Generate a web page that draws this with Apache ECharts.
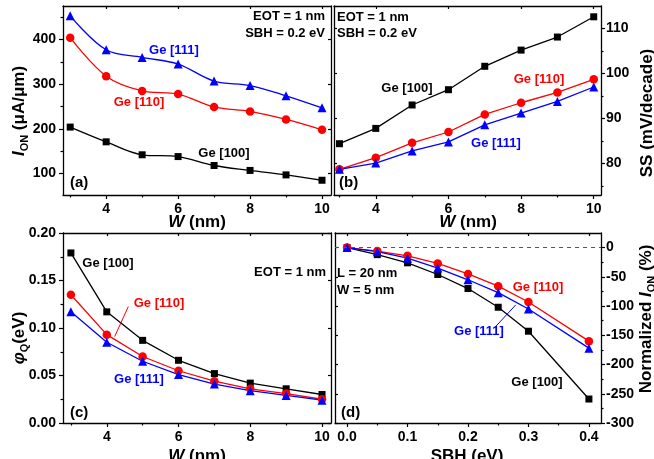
<!DOCTYPE html>
<html>
<head>
<meta charset="utf-8">
<script src="https://cdn.jsdelivr.net/npm/echarts@6/dist/echarts.min.js"></script>
<style>
  html, body { margin: 0; padding: 0; background: #fff; }
  #chart { width: 654px; height: 459px; }
</style>
</head>
<body>
<div id="chart"></div>
<script>
// data

const W_NM = [3, 4, 5, 6, 7, 8, 9, 10];
const SBH_EV = [0, 0.05, 0.1, 0.15, 0.2, 0.25, 0.3, 0.4];

// (a) I_ON (uA/um)
const ion100 = [204, 171, 142, 138, 118, 107, 97, 85];
const ion110 = [404, 318, 285, 278, 249, 239, 221, 198];
const ion111 = [453, 377, 360, 345, 307, 297, 274, 247];

// (b) SS (mV/decade)
const ss100 = [84.4, 87.8, 93.0, 96.4, 101.6, 105.2, 108.1, 112.6];
const ss110 = [78.7, 81.3, 84.6, 87.0, 90.9, 93.5, 95.8, 98.7];
const ss111 = [78.7, 80.1, 82.8, 84.8, 88.6, 91.2, 93.8, 97.0];

// (c) phi_Q (eV)
const phi100 = [0.179, 0.117, 0.087, 0.066, 0.052, 0.042, 0.036, 0.030];
const phi110 = [0.135, 0.093, 0.070, 0.055, 0.044, 0.036, 0.031, 0.025];
const phi111 = [0.117, 0.085, 0.065, 0.051, 0.041, 0.034, 0.029, 0.024];

// (d) normalized I_ON (%)
const norm100 = [0, -12, -26, -46, -70, -102, -143, -259];
const norm110 = [0, -6, -14, -27, -45, -66, -93, -160];
const norm111 = [0, -7, -18, -35, -55, -77, -105, -172];

// tick values
const wMajor = [4, 6, 8, 10];
const wMinor = [3, 5, 7, 9];
const ionMajor = [100, 200, 300, 400];
const ionMinor = [150, 250, 350, 450];
const ssMajor = [80, 90, 100, 110];
const ssMinor = [75, 85, 95, 105];
const phiMajor = [0, 0.05, 0.1, 0.15, 0.2];
const phiMinor = [0.025, 0.075, 0.125, 0.175];
const sbhMajor = [0, 0.1, 0.2, 0.3, 0.4];
const sbhMinor = [0.05, 0.15, 0.25, 0.35];
const normMajor = [0, -50, -100, -150, -200, -250, -300];
const normMinor = [-25, -75, -125, -175, -225, -275];

const FONT = 'Liberation Sans';
const BLACK = '#000000', RED = '#ff0000', BLUE = '#0000ff';

const chart = echarts.init(document.getElementById('chart'));

const grids = [
  { left: 63, top: 6, width: 268, height: 189 },
  { left: 334, top: 6, width: 267, height: 189 },
  { left: 63, top: 233, width: 268, height: 190 },
  { left: 335, top: 233, width: 266, height: 190 }
];

const lineStyle = { color: '#000', width: 1.3 };
const tickStyle = { color: '#000', width: 1.2 };
const labelStyle = { color: '#000', fontSize: 14, fontWeight: 'bold', fontFamily: FONT };

// main axis + minor tick axis + mirrored axis on the opposite side
function axes(gi, side, other, min, max, major, minor, fmt) {
  return [
    {
      type: 'value', gridIndex: gi, min, max, position: side,
      axisLine: { show: true, onZero: false, lineStyle },
      axisTick: { show: true, customValues: major, length: 4, lineStyle: tickStyle },
      axisLabel: Object.assign({ customValues: major, formatter: fmt, margin: side === 'right' ? 5 : 7 }, labelStyle),
      splitLine: { show: false }
    },
    {
      type: 'value', gridIndex: gi, min, max, position: side,
      axisLine: { show: false, onZero: false },
      axisTick: { show: true, customValues: minor, length: 2.5, lineStyle: tickStyle },
      axisLabel: { show: false },
      splitLine: { show: false }
    },
    {
      type: 'value', gridIndex: gi, min, max, position: other,
      axisLine: { show: true, onZero: false, lineStyle },
      axisTick: { show: true, inside: true, customValues: major, length: 3, lineStyle: tickStyle },
      axisLabel: { show: false },
      splitLine: { show: false }
    }
  ];
}

const intFmt = v => String(Math.round(v));

const xAxis = [].concat(
  axes(0, 'bottom', 'top', 2.8, 10.25, wMajor, wMinor, intFmt),
  axes(1, 'bottom', 'top', 2.85, 10.2, wMajor, wMinor, intFmt),
  axes(2, 'bottom', 'top', 2.78, 10.25, wMajor, wMinor, intFmt),
  axes(3, 'bottom', 'top', -0.02, 0.42, sbhMajor, sbhMinor, v => v.toFixed(1))
);
const yAxis = [].concat(
  axes(0, 'left', 'right', 52, 475, ionMajor, ionMinor, intFmt),
  axes(1, 'right', 'left', 73, 115, ssMajor, ssMinor, intFmt),
  axes(2, 'left', 'right', 0, 0.2, phiMajor, phiMinor, v => v.toFixed(2)),
  axes(3, 'right', 'left', -300, 25, normMajor, normMinor, intFmt)
);

function line(gi, xs, ys, color, symbol, size, smooth, extra) {
  return Object.assign({
    type: 'line',
    xAxisIndex: gi * 3,
    yAxisIndex: gi * 3,
    data: xs.map((x, i) => [x, ys[i]]),
    symbol,
    symbolSize: size,
    smooth: smooth || false,
    itemStyle: { color },
    lineStyle: { color, width: 1.3 },
    emphasis: { disabled: true }
  }, extra || {});
}

const SQ = ['rect', 7], CI = ['circle', 8.5], TR = ['triangle', 9];

const series = [
  line(0, W_NM, ion100, BLACK, SQ[0], SQ[1], 0.35),
  line(0, W_NM, ion110, RED, CI[0], CI[1], 0.35),
  line(0, W_NM, ion111, BLUE, TR[0], TR[1], 0.35),

  line(1, W_NM, ss100, BLACK, SQ[0], SQ[1]),
  line(1, W_NM, ss110, RED, CI[0], CI[1]),
  line(1, W_NM, ss111, BLUE, TR[0], TR[1]),

  line(2, W_NM, phi100, BLACK, SQ[0], SQ[1]),
  line(2, W_NM, phi110, RED, CI[0], CI[1], false, {
    markLine: {
      silent: true, symbol: 'none', label: { show: false },
      lineStyle: { color: RED, width: 1, type: 'solid' },
      data: [[{ coord: [4.6, 0.1225] }, { coord: [4.22, 0.091] }]]
    }
  }),
  line(2, W_NM, phi111, BLUE, TR[0], TR[1]),

  line(3, SBH_EV, norm100, BLACK, SQ[0], SQ[1]),
  line(3, SBH_EV, norm110, RED, CI[0], CI[1], false, {
    markLine: {
      silent: true, symbol: 'none', label: { show: false },
      lineStyle: { color: '#555', width: 1, type: [4, 4] },
      data: [{ yAxis: 0 }]
    }
  }),
  line(3, SBH_EV, norm111, BLUE, TR[0], TR[1], false, {
    markLine: {
      silent: true, symbol: 'none', label: { show: false },
      lineStyle: { color: BLUE, width: 1, type: 'solid' },
      data: [[{ coord: [0.243, -138] }, { coord: [0.279, -98] }]]
    }
  })
];

// annotations: [text, x, y, align, color, size]
const notes = [
  ['EOT = 1 nm', 325, 16, 'right', BLACK, 13],
  ['SBH = 0.2 eV', 325, 33, 'right', BLACK, 13],
  ['Ge [111]', 174, 50, 'center', BLUE, 13],
  ['Ge [110]', 139, 102, 'center', RED, 13],
  ['Ge [100]', 224, 153, 'center', BLACK, 13],
  ['(a)', 70, 183, 'left', BLACK, 15],

  ['EOT = 1 nm', 337, 17, 'left', BLACK, 13],
  ['SBH = 0.2 eV', 337, 33, 'left', BLACK, 13],
  ['Ge [100]', 407, 88, 'center', BLACK, 13],
  ['Ge [110]', 539, 79, 'center', RED, 13],
  ['Ge [111]', 496, 143, 'center', BLUE, 13],
  ['(b)', 339, 183, 'left', BLACK, 15],

  ['Ge [100]', 108, 263, 'center', BLACK, 13],
  ['EOT = 1 nm', 326, 272, 'right', BLACK, 13],
  ['Ge [110]', 159, 303, 'center', RED, 13],
  ['Ge [111]', 139, 379, 'center', BLUE, 13],
  ['(c)', 70, 413, 'left', BLACK, 15],

  ['L = 20 nm', 337, 273, 'left', BLACK, 13],
  ['W = 5 nm', 337, 290, 'left', BLACK, 13],
  ['Ge [110]', 538, 287, 'center', RED, 13],
  ['Ge [111]', 479, 331, 'center', BLUE, 13],
  ['Ge [100]', 537, 382, 'center', BLACK, 13],
  ['(d)', 341, 413, 'left', BLACK, 15]
];

const titleRich = {
  n: { fontSize: 17, fontWeight: 'bold', fontFamily: FONT, color: '#000', lineHeight: 22 },
  i: { fontSize: 17, fontWeight: 'bold', fontStyle: 'italic', fontFamily: FONT, color: '#000', lineHeight: 22 },
  s: { fontSize: 11, fontWeight: 'bold', fontFamily: FONT, color: '#000', lineHeight: 11, verticalAlign: 'bottom' }
};

// axis titles: [rich text, x, y, rotated]
const titles = [
  ['{i|I}{s|ON}{n| (μA/μm)}', 19, 111, true],
  ['{i|W}{n| (nm)}', 197, 222, false],
  ['{i|W}{n| (nm)}', 468, 222, false],
  ['{n|SS (mV/decade)}', 647, 113, true],
  ['{i|φ}{s|Q}{n|(eV)}', 19, 338, true],
  ['{i|W}{n| (nm)}', 197, 456, false],
  ['{n|SBH (eV)}', 467, 456, false],
  ['{n|Normalized }{i|I}{s|ON}{n| (%)}', 646, 319, true]
];

const graphic = notes.map(([text, x, y, align, color, size]) => ({
  type: 'text', x, y, silent: true, z: 10,
  style: { text, align, verticalAlign: 'middle', fill: color, fontSize: size, fontWeight: 'bold', fontFamily: FONT }
})).concat(titles.map(([text, x, y, rot]) => ({
  type: 'text', x, y, rotation: rot ? Math.PI / 2 : 0, silent: true, z: 10,
  style: { text, align: 'center', verticalAlign: 'middle', rich: titleRich }
})));

chart.setOption({
  animation: false,
  backgroundColor: '#fff',
  grid: grids,
  xAxis,
  yAxis,
  series,
  graphic
});
</script>
</body>
</html>
